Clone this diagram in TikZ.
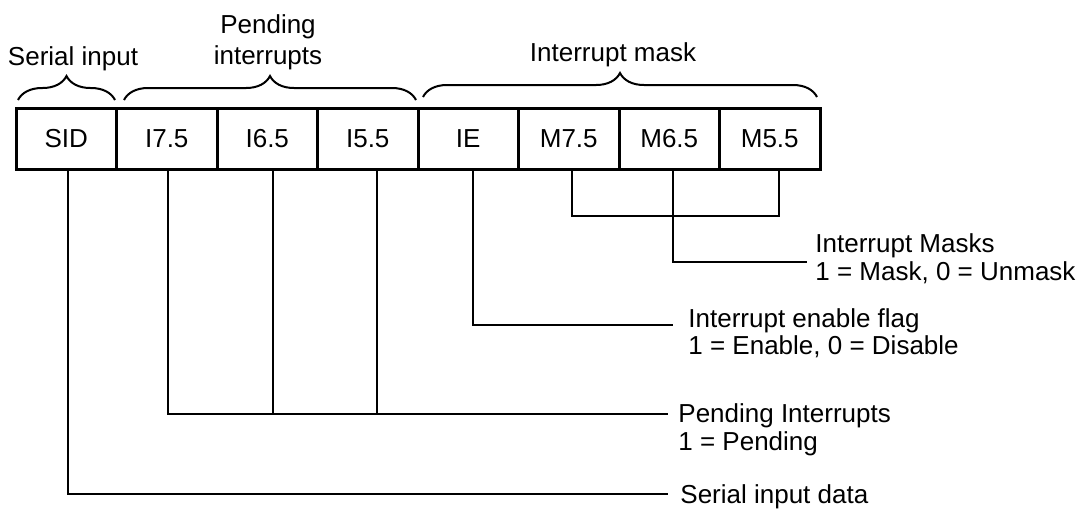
\documentclass[tikz,border=0pt]{standalone}
\usepackage{fontspec}
\setmainfont{Liberation Sans}
\usetikzlibrary{calc,decorations.pathreplacing}
\begin{document}
\begin{tikzpicture}[x=0.5pt,y=-0.5pt,
  cell/.style={draw, line width=1.5pt, minimum width=50.25pt, minimum height=30.5pt, inner sep=0pt, font=\fontsize{13}{14}\selectfont},
  lbl/.style={inner sep=0pt, font=\fontsize{13}{14}\selectfont},
  wire/.style={line width=1pt},
  brc/.style={line width=1pt, decorate, decoration={brace, amplitude=12pt}}]
\useasboundingbox (0,0) rectangle (1081,511);

% register cells
\node[cell] (sid) at (66.25,138.5) {SID};
\node[cell] (i75) at (166.75,138.5) {I7.5};
\node[cell] (i65) at (267.25,138.5) {I6.5};
\node[cell] (i55) at (367.75,138.5) {I5.5};
\node[cell] (ie)  at (468.25,138.5) {IE};
\node[cell] (m75) at (568.75,138.5) {M7.5};
\node[cell] (m65) at (669.25,138.5) {M6.5};
\node[cell] (m55) at (769.75,138.5) {M5.5};

% braces and group labels
\draw[brc] (18,100) -- (115,100);
\draw[brc] (124,100) -- (416,100);
\draw[brc] (423,97) -- (817,97);
\node[lbl, anchor=base] (gSer) at (73,65) {Serial input};
\node[lbl, anchor=base] (gPen1) at (268,33) {Pending};
\node[lbl, anchor=base] (gPen2) at (268,64) {interrupts};
\node[lbl, anchor=base] (gMask) at (613,61) {Interrupt mask};

% tap points under the cells
\coordinate (tSID) at ($(sid.south)+(1.75,0)$);
\coordinate (t75)  at ($(i75.south)+(1.25,0)$);
\coordinate (t65)  at ($(i65.south)+(5.75,0)$);
\coordinate (t55)  at ($(i55.south)+(9.25,0)$);
\coordinate (tIE)  at ($(ie.south)+(4.75,0)$);
\coordinate (tM75) at ($(m75.south)+(3.25,0)$);
\coordinate (tM65) at ($(m65.south)+(3.75,0)$);
\coordinate (tM55) at ($(m55.south)+(9.25,0)$);

% line ends
\coordinate (eMask) at (807,262);
\coordinate (eIE)   at (673,325);
\coordinate (ePen)  at (668,414);
\coordinate (eSer)  at (668,494);
\coordinate (jMask) at (0,216);

% descriptive labels
\node[lbl, anchor=base west] (dMask1) at (815,252) {Interrupt Masks};
\node[lbl, anchor=base west] (dMask2) at (815,280) {1 = Mask, 0 = Unmask};
\node[lbl, anchor=base west] (dIE1) at (688,327) {Interrupt enable flag};
\node[lbl, anchor=base west] (dIE2) at (688,354) {1 = Enable, 0 = Disable};
\node[lbl, anchor=base west] (dPen1) at (678,422) {Pending Interrupts};
\node[lbl, anchor=base west] (dPen2) at (678,450) {1 = Pending};
\node[lbl, anchor=base west] (dSer) at (680,503) {Serial input data};

% connectors
\draw[wire] (tM75) -- (tM75 |- jMask) -| (tM55);
\draw[wire] (tM65) |- (eMask);
\draw[wire] (tIE) |- (eIE);
\draw[wire] (t75) |- (ePen);
\draw[wire] (t65) -- (t65 |- ePen);
\draw[wire] (t55) -- (t55 |- ePen);
\draw[wire] (tSID) |- (eSer);
\end{tikzpicture}
\end{document}
